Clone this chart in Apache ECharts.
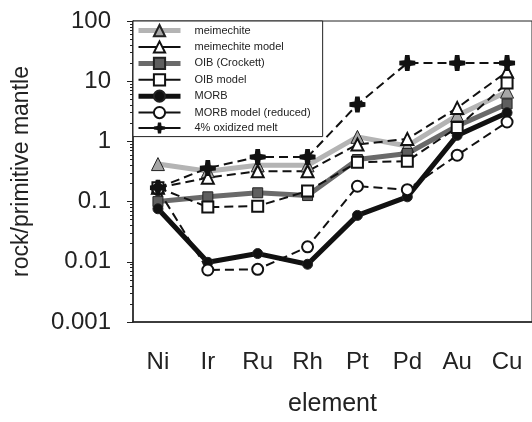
<!DOCTYPE html>
<html>
<head>
<meta charset="utf-8">
<script src="https://cdn.jsdelivr.net/npm/echarts@6/dist/echarts.min.js"></script>
<style>
  html, body { margin: 0; padding: 0; background: #fff; }
  #chart { width: 532px; height: 422px; }
</style>
</head>
<body>
<div id="chart"></div>
<script>
// element order along the x axis
const elements = ['Ni', 'Ir', 'Ru', 'Rh', 'Pt', 'Pd', 'Au', 'Cu'];

// rock / primitive mantle
const meimechite = [0.42, 0.32, 0.40, 0.40, 1.19, 0.84, 2.7, 6.7];
const meimechiteModel = [0.17, 0.25, 0.32, 0.32, 0.89, 1.1, 3.6, 14.4];
const oibCrockett = [0.10, 0.12, 0.14, 0.126, 0.50, 0.63, 1.8, 4.2];
const oibModel = [0.17, 0.081, 0.084, 0.15, 0.45, 0.47, 1.7, 9.3];
const morb = [0.076, 0.0098, 0.0137, 0.0091, 0.059, 0.12, 1.26, 3.0];
const morbModel = [0.16, 0.0073, 0.0075, 0.0177, 0.18, 0.158, 0.59, 2.1];
const oxidizedMelt = [0.17, 0.36, 0.55, 0.55, 4.1, 20, 20, 20];

const yTickLabels = ['0.001', '0.01', '0.1', '1', '10', '100'];

const plus = 'path://M4.3,0 L7.7,0 L8.2,3.8 L12,4.3 L12,7.7 L8.2,8.2 L7.7,12 L4.3,12 L3.8,8.2 L0,7.7 L0,4.3 L3.8,3.8 Z';
const dash = [9, 5];
const font = 'Liberation Sans, Arial, sans-serif';

function solid(name, data, lineColor, symbol, fill, size) {
  return {
    name, type: 'line', data,
    symbol, symbolSize: size,
    lineStyle: { color: lineColor, width: 5 },
    itemStyle: { color: fill, borderColor: '#222', borderWidth: 1 },
    emphasis: { disabled: true }
  };
}

function dashed(name, data, symbol, fill, size) {
  return {
    name, type: 'line', data,
    symbol, symbolSize: size,
    lineStyle: { color: '#111', width: 2, type: dash },
    itemStyle: { color: fill, borderColor: '#111', borderWidth: fill === '#fff' ? 2 : 0 },
    emphasis: { disabled: true }
  };
}

const chart = echarts.init(document.getElementById('chart'));
chart.setOption({
  animation: false,
  textStyle: { fontFamily: font, color: '#222' },
  grid: {
    left: 133, top: 21, right: -2, bottom: 98,
    show: true, borderColor: '#222', borderWidth: 1
  },
  legend: {
    orient: 'vertical',
    left: 133, top: 21,
    padding: [3, 12, 3, 3],
    itemWidth: 42, itemHeight: 14, itemGap: 3.2,
    backgroundColor: '#fff',
    borderColor: '#222', borderWidth: 1,
    textStyle: { fontSize: 11, color: '#222', padding: [0, 0, 0, 9] },
    data: [
      { name: 'meimechite', lineStyle: { width: 5 } },
      { name: 'meimechite model', lineStyle: { width: 2, type: 'solid' } },
      { name: 'OIB (Crockett)', lineStyle: { width: 5 } },
      { name: 'OIB model', lineStyle: { width: 2, type: 'solid' } },
      { name: 'MORB', lineStyle: { width: 5 } },
      { name: 'MORB model (reduced)', lineStyle: { width: 2, type: 'solid' } },
      { name: '4% oxidized melt', lineStyle: { width: 2, type: 'solid' } }
    ]
  },
  xAxis: {
    type: 'category',
    data: elements,
    name: 'element', nameLocation: 'middle', nameGap: 70,
    nameTextStyle: { fontSize: 25, color: '#222' },
    axisLine: { lineStyle: { color: '#222', width: 1.5 } },
    axisTick: { length: 5, lineStyle: { color: '#222' } },
    axisLabel: { fontSize: 24, color: '#222', margin: 28 },
    splitLine: { show: false }
  },
  yAxis: {
    type: 'log', logBase: 10, min: 0.001, max: 100,
    name: 'rock/primitive mantle', nameLocation: 'middle', nameGap: 100,
    nameTextStyle: { fontSize: 23, color: '#222' },
    axisLine: { show: true, lineStyle: { color: '#222', width: 1.5 } },
    axisTick: { show: true, length: 6, lineStyle: { color: '#222' } },
    minorTick: { show: true, splitNumber: 9, length: 3, lineStyle: { color: '#222' } },
    axisLabel: {
      fontSize: 24, color: '#222', margin: 22,
      formatter: v => yTickLabels[Math.round(Math.log10(v)) + 3]
    },
    splitLine: { show: false }
  },
  series: [
    solid('meimechite', meimechite, '#b4b4b4', 'triangle', '#a6a6a6', 13),
    solid('OIB (Crockett)', oibCrockett, '#6a6a6a', 'rect', '#5e5e5e', 10),
    solid('MORB', morb, '#111', 'circle', '#111', 10),
    dashed('meimechite model', meimechiteModel, 'triangle', '#fff', 12),
    dashed('OIB model', oibModel, 'rect', '#fff', 11),
    dashed('MORB model (reduced)', morbModel, 'circle', '#fff', 11),
    dashed('4% oxidized melt', oxidizedMelt, plus, '#111', 16)
  ]
});
</script>
</body>
</html>
